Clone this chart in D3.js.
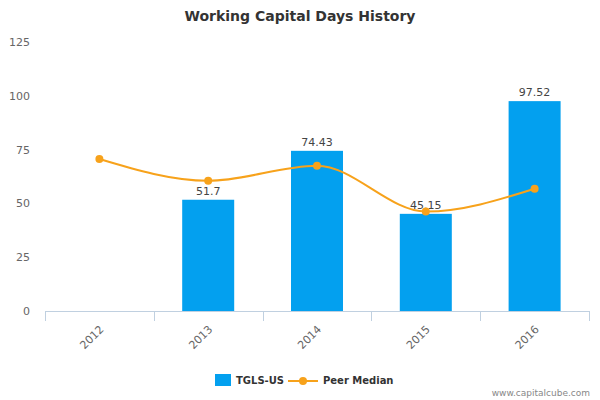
<!DOCTYPE html><html><head><meta charset="utf-8"><script src="https://cdn.jsdelivr.net/npm/d3@7"></script>
<style>body{margin:0;background:#fff}text{font-family:"DejaVu Sans",sans-serif}</style></head><body><svg id="c" width="600" height="400"></svg><script>
const categories=["2012","2013","2014","2015","2016"];
const tglsValues=[null,51.7,74.43,45.15,97.52];
const peerMedian=[70.6,60.5,67.5,46.2,56.8];
const yTicks=[0,25,50,75,100,125];
const svg=d3.select("#c");
const x=d3.scaleBand().domain(categories).range([45,589]);
const y=d3.scaleLinear().domain([0,125]).range([311,42]);
svg.append("text").attr("x",300).attr("y",21).attr("text-anchor","middle").attr("font-size",14).attr("font-weight","bold").attr("fill","#333").text("Working Capital Days History");
svg.selectAll(".yl").data(yTicks).enter().append("text").attr("x",30).attr("y",d=>y(d)+4).attr("text-anchor","end").attr("font-size",11).attr("fill","#666").text(d=>d);
svg.append("line").attr("x1",45).attr("x2",589).attr("y1",311.5).attr("y2",311.5).attr("stroke","#c0d0e0");
const bounds=categories.map(c=>x(c)).concat([x.range()[1]]);
svg.selectAll(".tk").data(bounds).enter().append("line").attr("x1",d=>Math.round(d)+.5).attr("x2",d=>Math.round(d)+.5).attr("y1",311).attr("y2",321).attr("stroke","#c0d0e0");
svg.selectAll(".xl").data(categories).enter().append("text").attr("transform",d=>`translate(${x(d)+x.bandwidth()/2+5},${330}) rotate(-45)`).attr("text-anchor","end").attr("font-size",11).attr("fill","#666").text(d=>d);
const bw=52;
const bars=categories.map((c,i)=>({c,v:tglsValues[i]})).filter(d=>d.v!=null);
svg.selectAll(".b").data(bars).enter().append("rect").attr("x",d=>x(d.c)+x.bandwidth()/2-bw/2).attr("width",bw).attr("y",d=>y(d.v)).attr("height",d=>y(0)-y(d.v)).attr("fill","#03a0ef");
svg.selectAll(".bl").data(bars).enter().append("text").attr("x",d=>x(d.c)+x.bandwidth()/2).attr("y",d=>y(d.v)-5).attr("text-anchor","middle").attr("font-size",11).attr("fill","#444").text(d=>d.v);
const pts=categories.map((c,i)=>[x(c)+x.bandwidth()/2,y(peerMedian[i])]);
svg.append("path").attr("d",d3.line().curve(d3.curveMonotoneX)(pts)).attr("fill","none").attr("stroke","#f7a21b").attr("stroke-width",2);
svg.selectAll(".p").data(pts).enter().append("circle").attr("cx",d=>d[0]).attr("cy",d=>d[1]).attr("r",4).attr("fill","#f7a21b");
svg.append("rect").attr("x",215).attr("y",374).attr("width",16).attr("height",12).attr("fill","#03a0ef");
svg.append("text").attr("x",236).attr("y",384).attr("font-size",10).attr("font-weight","bold").attr("fill","#333").text("TGLS-US");
svg.append("line").attr("x1",288).attr("x2",318).attr("y1",381).attr("y2",381).attr("stroke","#f7a21b").attr("stroke-width",2);
svg.append("circle").attr("cx",303).attr("cy",381).attr("r",4).attr("fill","#f7a21b");
svg.append("text").attr("x",323).attr("y",384).attr("font-size",10).attr("font-weight","bold").attr("fill","#333").text("Peer Median");
svg.append("text").attr("x",590).attr("y",396).attr("text-anchor","end").attr("font-size",9).attr("fill","#888").text("www.capitalcube.com");
</script></body></html>
